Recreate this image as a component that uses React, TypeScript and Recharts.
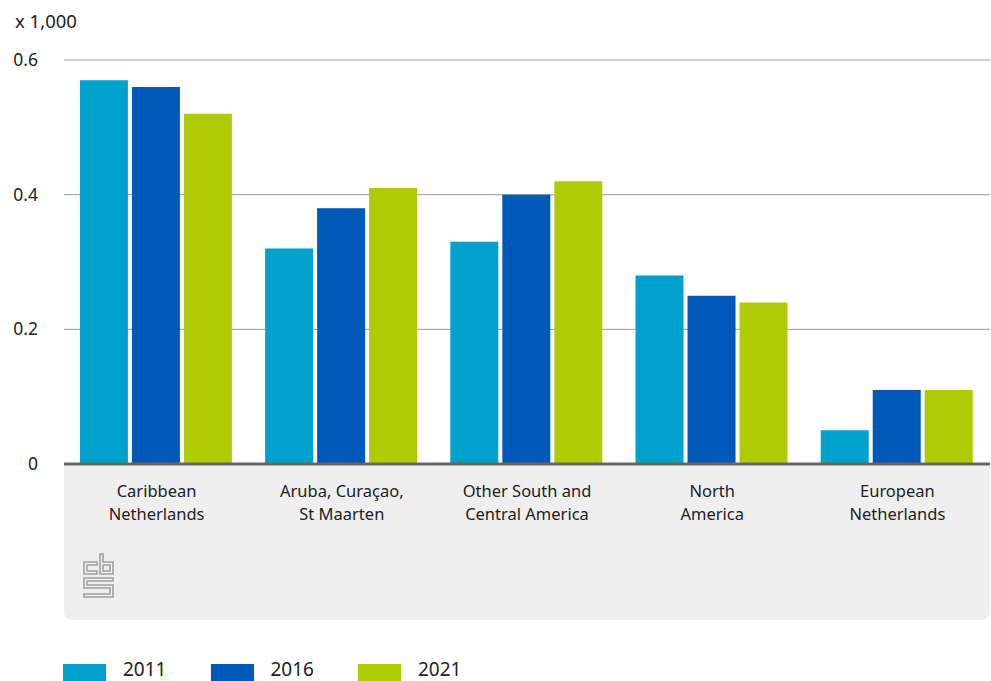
import React from 'react';
import { BarChart, Bar, XAxis, YAxis, CartesianGrid, Legend } from 'recharts';

const categories = [
  ['Caribbean', 'Netherlands'],
  ['Aruba, Curaçao,', 'St Maarten'],
  ['Other South and', 'Central America'],
  ['North', 'America'],
  ['European', 'Netherlands'],
];
const values2011 = [0.57, 0.32, 0.33, 0.28, 0.05];
const values2016 = [0.56, 0.38, 0.4, 0.25, 0.11];
const values2021 = [0.52, 0.41, 0.42, 0.24, 0.11];
const yTicks = [0, 0.2, 0.4, 0.6];
const seriesNames = ['2011', '2016', '2021'];
const colors = ['#00a1cd', '#0058b8', '#afcb05'];

const data = categories.map((c, i) => ({
  name: c.join('|'),
  s2011: values2011[i],
  s2016: values2016[i],
  s2021: values2021[i],
}));

const FONT = '"Noto Sans", sans-serif';

const XTick = (props: any) => {
  const { x, y, payload } = props;
  const lines = String(payload.value).split('|');
  return (
    <text x={x} y={y} textAnchor="middle" fontFamily={FONT} fontSize={16.5} fill="#222">
      {lines.map((l, i) => (
        <tspan key={i} x={x} dy={i === 0 ? 25 : 23}>{l}</tspan>
      ))}
    </text>
  );
};

const YTick = (props: any) => {
  const { y, payload } = props;
  const v = payload.value;
  const label = v === 0 ? '0' : v.toFixed(1);
  return (
    <text x={38} y={y + 6} textAnchor="end" fontFamily={FONT} fontSize={17.5} fill="#222">
      {label}
    </text>
  );
};

const LegendContent = () => (
  <div style={{ position: 'relative', height: 61, fontFamily: FONT, fontSize: 19, color: '#222' }}>
    {seriesNames.map((n, i) => (
      <div key={n} style={{ position: 'absolute', left: 63 + i * 147.5, top: 44, height: 17, width: 140 }}>
        <div style={{ position: 'absolute', left: 0, top: 0, width: 43, height: 17, background: colors[i] }} />
        <span style={{ position: 'absolute', left: 60, top: -6, lineHeight: '22px', whiteSpace: 'nowrap' }}>{n}</span>
      </div>
    ))}
  </div>
);

const Logo = () => (
  <svg width={36} height={50} style={{ position: 'absolute', left: 81, top: 551 }} viewBox="0 0 36 50">
    <g fill="none" stroke="#a0a0a0" strokeWidth={1.6}>
      <path d="M3 11 H16 V14 H6 V20 H16 V23 H3 Z" />
      <path d="M19 3 H22 V11 H32 V23 H19 Z M22 14 V20 H29 V14 Z" />
      <path d="M3 27 H32 V30 H6 V34 H32 V46 H3 V43 H29 V37 H3 Z" />
    </g>
  </svg>
);

export default function App() {
  return (
    <div style={{ position: 'absolute', left: 0, top: 0, width: 991, height: 681, background: '#fff', overflow: 'hidden' }}>
      <div style={{ position: 'absolute', left: 64, top: 464, width: 926, height: 156, background: '#efefef', borderRadius: '0 0 8px 8px' }} />
      <Logo />
      <div style={{ position: 'absolute', left: 15, top: 8, fontFamily: FONT, fontSize: 18.5, color: '#222', lineHeight: '26px' }}>x 1,000</div>
      <div style={{ position: 'absolute', left: 0, top: 0 }}>
        <BarChart
          width={991}
          height={681}
          data={data}
          margin={{ top: 60, right: 1, left: 0, bottom: 0 }}
          barCategoryGap="8.6%"
          barGap={4}
        >
          <CartesianGrid horizontal vertical={false} stroke="#9a9a9a" strokeWidth={1} />
          <YAxis
            domain={[0, 0.6]}
            ticks={yTicks}
            width={64}
            axisLine={false}
            tickLine={false}
            tick={<YTick />}
            interval={0}
          />
          <XAxis
            dataKey="name"
            height={156}
            tick={<XTick />}
            tickLine={false}
            axisLine={{ stroke: '#666', strokeWidth: 3 }}
            interval={0}
          />
          <Legend verticalAlign="bottom" height={61} content={<LegendContent />} />
          <Bar dataKey="s2011" name="2011" fill={colors[0]} isAnimationActive={false} />
          <Bar dataKey="s2016" name="2016" fill={colors[1]} isAnimationActive={false} />
          <Bar dataKey="s2021" name="2021" fill={colors[2]} isAnimationActive={false} />
        </BarChart>
      </div>
    </div>
  );
}
